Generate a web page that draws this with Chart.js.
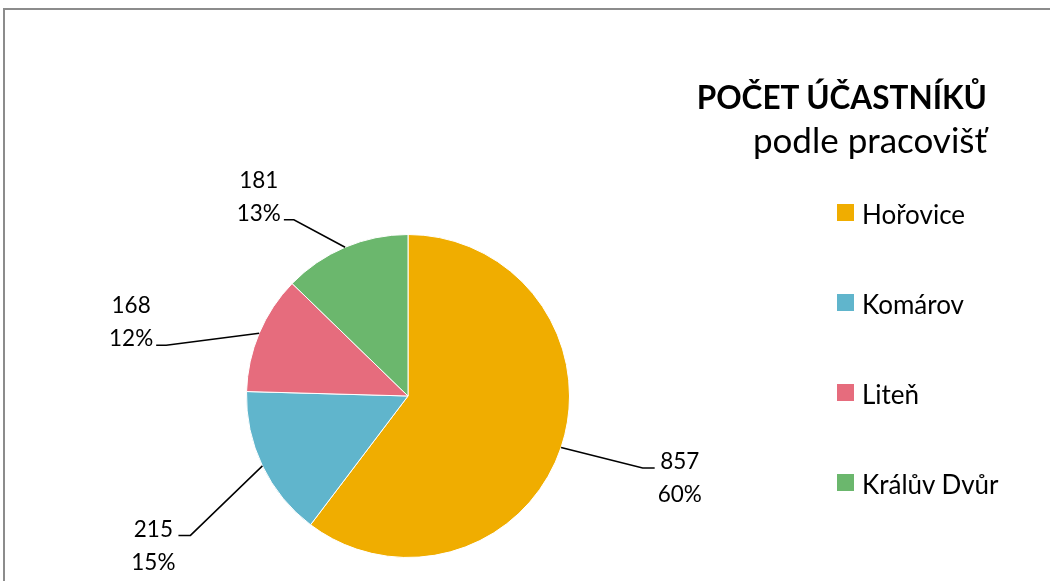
<!DOCTYPE html>
<html>
<head>
<meta charset="utf-8">
<script src="https://cdn.jsdelivr.net/npm/chart.js@4/dist/chart.umd.min.js"></script>
<style>
  html, body { margin: 0; padding: 0; background: #fff; }
  body { width: 1050px; height: 581px; position: relative; overflow: hidden; font-family: Lato, "Open Sans", sans-serif; }
  #frame { position: absolute; left: 3px; top: 8px; width: 1100px; height: 620px; border-left: 2px solid #8c8c8c; border-top: 2px solid #8c8c8c; box-sizing: border-box; }
  #wrap { position: absolute; left: 0; top: 0; width: 1050px; height: 581px; }
  #title { position: absolute; right: 63px; top: 74px; text-align: right; color: #000; line-height: 46px; }
  #title .t1 { font-weight: bold; font-size: 31.5px; }
  #title .t2 { font-size: 35px; margin-top: -4px; }
  #legend { position: absolute; left: 837px; top: 197px; }
  .li { height: 90px; display: flex; align-items: flex-start; font-size: 26px; line-height: 34px; color: #000; }
  .sw { width: 17px; height: 17px; margin-top: 7px; margin-right: 8px; }
</style>
</head>
<body>
<div id="frame"></div>
<div id="wrap"><canvas id="c" width="1050" height="581"></canvas></div>
<div id="title"><div class="t1">POČET ÚČASTNÍKŮ</div><div class="t2">podle pracovišť</div></div>
<div id="legend"></div>
<script>
const categories = ["Hořovice", "Komárov", "Liteň", "Králův Dvůr"];
const values = [857, 215, 168, 181];
const percentLabels = ["60%", "15%", "12%", "13%"];
const colors = ["#F0AD00", "#60B5CC", "#E66C7D", "#6BB76D"];

// legend (HTML, generated from arrays)
const lg = document.getElementById('legend');
categories.forEach((c, i) => {
  const d = document.createElement('div'); d.className = 'li';
  const s = document.createElement('div'); s.className = 'sw'; s.style.background = colors[i];
  const t = document.createElement('span'); t.textContent = c;
  d.appendChild(s); d.appendChild(t); lg.appendChild(d);
});

// leader-line label styling per slice: elbow angle shift (deg), elbow radius factor, side, horizontal tail
const labelStyle = [
  { dAng: -1.5, k: 1.52, side: 'right', tail: 12, lineRow: 0 },
  { dAng: -7,   k: 1.60, side: 'left',  tail: 12, lineRow: 0 },
  { dAng: -11,  k: 1.53, side: 'left',  tail: 10, lineRow: 1 },
  { dAng: -10,  k: 1.30, side: 'left',  tail: 10, lineRow: 1 }
];

const leaderPlugin = {
  id: 'leaders',
  afterDatasetsDraw(chart) {
    const ctx = chart.ctx;
    const meta = chart.getDatasetMeta(0);
    ctx.save();
    ctx.font = '22.5px Lato, "Open Sans", sans-serif';
    ctx.fillStyle = '#000';
    ctx.strokeStyle = '#000';
    ctx.lineWidth = 1.5;
    meta.data.forEach((arc, i) => {
      const p = arc.getProps(['x', 'y', 'startAngle', 'endAngle', 'outerRadius'], true);
      const mid = (p.startAngle + p.endAngle) / 2;
      const st = labelStyle[i];
      const ax = p.x + Math.cos(mid) * p.outerRadius;
      const ay = p.y + Math.sin(mid) * p.outerRadius;
      const ea = mid + st.dAng * Math.PI / 180;
      const ex = p.x + Math.cos(ea) * p.outerRadius * st.k;
      const ey = p.y + Math.sin(ea) * p.outerRadius * st.k;
      const tx = st.side === 'right' ? ex + st.tail : ex - st.tail;
      ctx.beginPath();
      ctx.moveTo(ax, ay); ctx.lineTo(ex, ey); ctx.lineTo(tx, ey);
      ctx.stroke();
      const l1 = String(values[i]), l2 = percentLabels[i];
      const w = Math.max(ctx.measureText(l1).width, ctx.measureText(l2).width);
      const lh = 33;
      const cx = st.side === 'right' ? tx + 3 + w / 2 : tx - 3 - w / 2;
      const y1 = st.lineRow === 0 ? ey - 6 : ey - 6 - lh;
      ctx.textAlign = 'center';
      ctx.textBaseline = 'middle';
      ctx.fillText(l1, cx, y1);
      ctx.fillText(l2, cx, y1 + lh);
    });
    ctx.restore();
  }
};

new Chart(document.getElementById('c'), {
  type: 'pie',
  data: {
    labels: categories,
    datasets: [{ data: values, backgroundColor: colors, borderColor: '#ffffff', borderWidth: 1 }]
  },
  options: {
    responsive: false,
    animation: false,
    layout: { padding: { left: 246, right: 480, top: 234, bottom: 23 } },
    plugins: { legend: { display: false }, tooltip: { enabled: false } }
  },
  plugins: [leaderPlugin]
});
</script>
</body>
</html>
